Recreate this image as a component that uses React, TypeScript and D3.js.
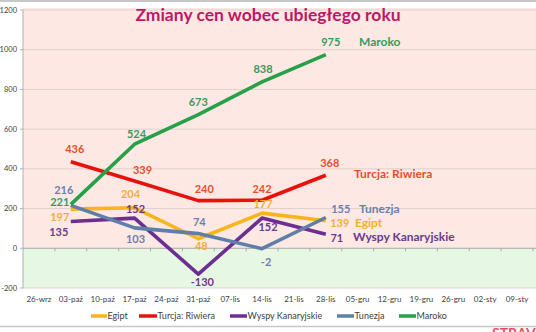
import React from "react";
import * as d3 from "d3";

const categories = ["26-wrz","03-paź","10-paź","17-paź","24-paź","31-paź","07-lis","14-lis","21-lis","28-lis","05-gru","12-gru","19-gru","26-gru","02-sty","09-sty"];
const pointDates = ["03-paź","17-paź","31-paź","14-lis","28-lis"];
const yTicks = [-200, 0, 200, 400, 600, 800, 1000, 1200];

const egipt = [197, 204, 48, 177, 139];
const turcja = [436, 339, 240, 242, 368];
const wyspy = [135, 152, -130, 152, 71];
const tunezja = [216, 103, 74, -2, 155];
const maroko = [221, 524, 673, 838, 975];

const seriesNames = ["Egipt", "Turcja: Riwiera", "Wyspy Kanaryjskie", "Tunezja", "Maroko"];
const endLabels = ["Egipt", "Turcja: Riwiera", "Wyspy Kanaryjskie", "Tunezja", "Maroko"];

const W = 536, H = 332;
const X0 = 23, X1 = 533, YT = 10, YB = 288;

type S = {
  name: string; values: number[]; line: string; label: string;
  off: [number, number][]; endPos: [number, number];
};

const series: S[] = [
  { name: seriesNames[0], values: egipt, line: "#f7b519", label: "#f0b030",
    off: [[-11, 8], [-4, -14], [3, 7], [1, -9], [14, 2]], endPos: [355, 223] },
  { name: seriesNames[1], values: turcja, line: "#e8120c", label: "#e4502c",
    off: [[4, -13], [8, -11], [6, -11], [0, -11], [4, -12]], endPos: [354, 174] },
  { name: seriesNames[2], values: wyspy, line: "#6d2f8f", label: "#6a3a8c",
    off: [[-12, 11], [1, -9], [4, 8], [6, 9], [11, 4]], endPos: [353, 237] },
  { name: seriesNames[3], values: tunezja, line: "#5f7fa8", label: "#6c80b0",
    off: [[-7, -15], [1, 11], [1, -11], [4, 13], [15, -8]], endPos: [359, 209] },
  { name: seriesNames[4], values: maroko, line: "#27a047", label: "#3a9a5c",
    off: [[-11, -2], [2, -10], [0, -12], [1, -13], [5, -13]], endPos: [359, 42] },
];

const legendPos: [number, number][] = [[91, 107], [139, 157], [230, 247], [337, 354], [399, 416]];

export default function App() {
  const x = d3.scaleBand<string>().domain(categories).range([X0, X1]);
  const y = d3.scaleLinear().domain([-200, 1200]).range([YB, YT]);
  const cx = (c: string) => (x(c) as number) + x.bandwidth() / 2;
  const line = d3.line<number>()
    .x((_, i) => cx(pointDates[i]))
    .y((d) => y(d));
  const font = "Lato, 'Open Sans', sans-serif";
  return (
    <svg width={W} height={H} style={{ position: "absolute", left: 0, top: 0 }}>
      <rect x={0} y={0} width={W} height={H} fill="#ffffff" />
      <line x1={0} x2={W} y1={1} y2={1} stroke="#c8c8c8" strokeWidth={2} />
      <rect x={X0} y={YT - 2} width={W - X0} height={y(0) - YT + 2} fill="#fde8e4" />
      <rect x={X0} y={y(0)} width={W - X0} height={YB - y(0)} fill="#e6f8e4" />
      {yTicks.filter((t) => t !== 0).map((t) => (
        <line key={t} x1={X0} x2={W} y1={y(t)} y2={y(t)} stroke="#e0d0cc" strokeWidth={1} />
      ))}
      <line x1={X0} x2={X0} y1={YT} y2={YB} stroke="#b0b0b0" strokeWidth={1} />
      {yTicks.map((t) => (
        <g key={t}>
          <line x1={X0 - 3} x2={X0} y1={y(t)} y2={y(t)} stroke="#b0b0b0" />
          <text x={X0 - 6} y={y(t)} dy="0.35em" textAnchor="end" fontSize={7.5} fill="#404040" fontFamily={font}>{t}</text>
        </g>
      ))}
      <line x1={X0} x2={W} y1={y(0)} y2={y(0)} stroke="#a8a8a8" strokeWidth={1} />
      {categories.map((c) => (
        <line key={c} x1={(x(c) as number) + x.bandwidth()} x2={(x(c) as number) + x.bandwidth()} y1={y(0)} y2={y(0) + 3} stroke="#a8a8a8" />
      ))}
      {categories.map((c) => (
        <text key={c} x={cx(c)} y={299} dy="0.35em" textAnchor="middle" fontSize={8} fill="#404040" fontFamily={font}>{c}</text>
      ))}
      <text x={268} y={15} dy="0.35em" textAnchor="middle" fontSize={17.5} fontWeight={700} fill="#be1766" fontFamily={font}>
        Zmiany cen wobec ubiegłego roku
      </text>
      {series.map((s) => (
        <path key={s.name} d={line(s.values) || ""} fill="none" stroke={s.line} strokeWidth={3.6} strokeLinejoin="round" />
      ))}
      {series.map((s, si) => (
        <g key={s.name + "l"}>
          {s.values.map((v, i) => (
            <text key={i} x={cx(pointDates[i]) + s.off[i][0]} y={y(v) + s.off[i][1]} dy="0.35em" textAnchor="middle"
              fontSize={11} fontWeight={700} fill={s.label} fontFamily={font}>{v}</text>
          ))}
          <text x={s.endPos[0]} y={s.endPos[1]} dy="0.35em" fontSize={12} fontWeight={700} fill={s.label} fontFamily={font}>
            {endLabels[si]}
          </text>
        </g>
      ))}
      {series.map((s, i) => (
        <g key={s.name + "lg"}>
          <line x1={legendPos[i][0]} x2={legendPos[i][1]} y1={316} y2={316} stroke={s.line} strokeWidth={3.5} />
          <text x={legendPos[i][1] + 0.5} y={316} dy="0.35em" fontSize={9} fill="#404040" fontFamily={font}>{s.name}</text>
        </g>
      ))}
      <line x1={0} x2={W} y1={326.5} y2={326.5} stroke="#c8c8c8" strokeWidth={1.5} />
      <text x={492} y={338} fontSize={14} fontWeight={700} fill="#e0506a" fontFamily={font}>STRAV</text>
    </svg>
  );
}
